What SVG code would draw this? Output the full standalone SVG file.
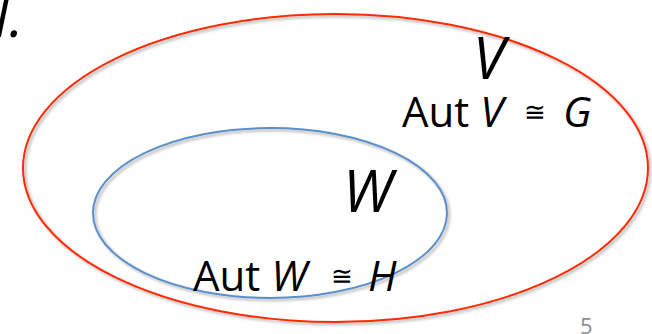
<svg xmlns="http://www.w3.org/2000/svg" width="652" height="334" viewBox="0 0 652 334">
<defs>
<filter id="sh" x="-10%" y="-10%" width="120%" height="120%">
<feGaussianBlur in="SourceAlpha" stdDeviation="1.5"/>
<feOffset dx="1.5" dy="2" result="b"/>
<feComponentTransfer><feFuncA type="linear" slope="0.35"/></feComponentTransfer>
<feMerge><feMergeNode/><feMergeNode in="SourceGraphic"/></feMerge>
</filter>
</defs>
<style>
.t{font-family:"Open Sans","Liberation Sans",sans-serif;fill:#000}
.i{font-style:italic}
.c{font-size:26px}
</style>
<rect width="652" height="334" fill="#fff"/>
<text class="t i" x="-6" y="37" font-size="56">I.</text>
<g id="V">
<ellipse cx="335.5" cy="168" rx="312.5" ry="154" fill="none" stroke="#ff2a00" stroke-width="2" filter="url(#sh)"/>
<text class="t i" x="473" y="79" font-size="58">V</text>
<text class="t" x="402" y="127" font-size="42">Aut <tspan class="i">V</tspan></text>
<text class="t c" x="524" y="121">≅</text>
<text class="t i" x="563" y="127" font-size="42">G</text>
</g>
<g id="W">
<ellipse cx="270" cy="213" rx="177" ry="85" fill="none" stroke="#5b8fc9" stroke-width="2" filter="url(#sh)"/>
<text class="t i" x="343" y="212" font-size="58">W</text>
<text class="t" x="193" y="291" font-size="42">Aut <tspan class="i">W</tspan></text>
<text class="t c" x="331" y="285">≅</text>
<text class="t i" x="368" y="291" font-size="42">H</text>
</g>
<text x="580" y="334" font-family="Open Sans, Liberation Sans, sans-serif" font-size="22" fill="#8c8c8c">5</text>
</svg>
